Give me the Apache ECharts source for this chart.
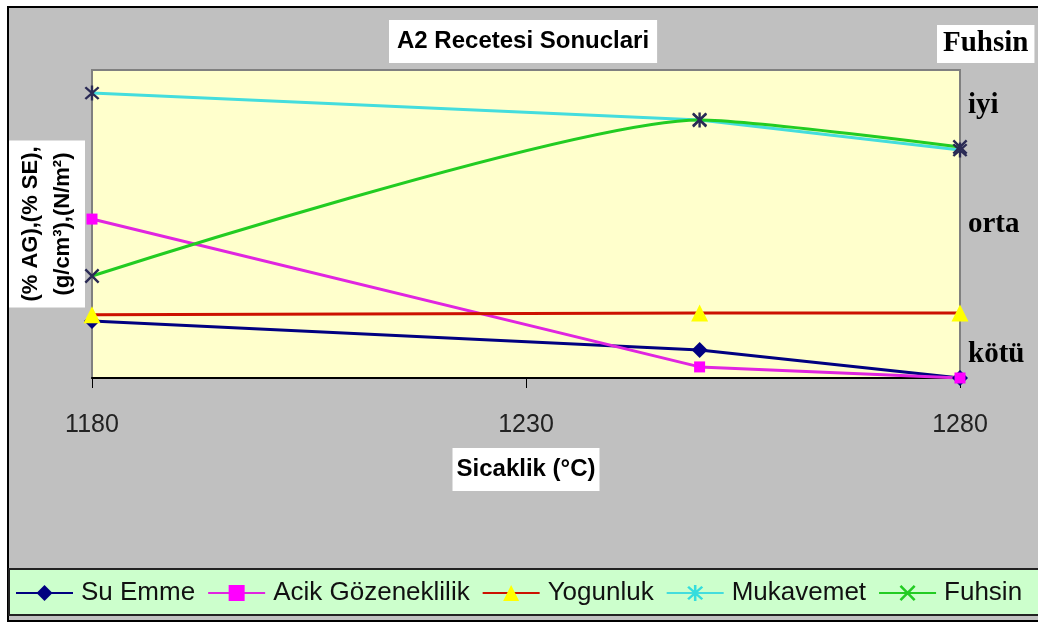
<!DOCTYPE html>
<html>
<head>
<meta charset="utf-8">
<script src="https://cdn.jsdelivr.net/npm/echarts@6/dist/echarts.min.js"></script>
<style>
html,body{margin:0;padding:0;background:#fff;}
#chart{width:1038px;height:624px;}
</style>
</head>
<body>
<div id="chart"></div>
<script>
// ---- data ----
const temperatures = [1180, 1250, 1280];
const xTickValues = [1180, 1230, 1280];
const seriesNames = ['Su Emme', 'Acik Gözeneklilik', 'Yogunluk', 'Mukavemet', 'Fuhsin'];
const suEmme = [18.5, 9.1, 0];
const acikGozeneklilik = [51.6, 3.6, 0];
const yogunluk = [20.5, 21.1, 21.1];
const mukavemet = [92.5, 83.8, 74];
const fuhsin = [33.1, 83.8, 75];
const fuhsinLevels = ['kötü', 'orta', 'iyi'];
const fuhsinLevelValues = [7.5, 49.7, 88.6];

const ASTERISK = 'path://M4.3,0H5.7V10H4.3Z M0.6,1.6L1.6,0.6L9.4,8.4L8.4,9.4Z M8.4,0.6L9.4,1.6L1.6,9.4L0.6,8.4Z';
const XMARK = 'path://M0.6,1.6L1.6,0.6L9.4,8.4L8.4,9.4Z M8.4,0.6L9.4,1.6L1.6,9.4L0.6,8.4Z';

function pts(vals){ return temperatures.map((t,i)=>[t, vals[i]]); }

const chart = echarts.init(document.getElementById('chart'));
const sans = 'Liberation Sans, Arial, sans-serif';
const serif = 'Liberation Serif, Times New Roman, serif';

chart.setOption({
  backgroundColor: '#ffffff',
  animation: false,
  title: [
    {
      text: 'A2 Recetesi Sonuclari',
      left: 389, top: 20,
      backgroundColor: '#ffffff',
      padding: [8, 8],
      textStyle: {fontFamily: sans, fontSize: 24, fontWeight: 'bold', color: '#000', lineHeight: 27}
    },
    {
      text: 'Fuhsin',
      left: 937, top: 25,
      backgroundColor: '#ffffff',
      padding: [4, 6],
      textStyle: {fontFamily: serif, fontSize: 29, fontWeight: 'bold', color: '#000', lineHeight: 30}
    }
  ],
  graphic: [
    {type: 'rect', z: -100, shape: {x: 8, y: 7, width: 1040, height: 614},
     style: {fill: '#c0c0c0', stroke: '#000', lineWidth: 2}},
    {type: 'rect', z: -90, shape: {x: 9, y: 569, width: 1035, height: 46},
     style: {fill: '#ccffcc', stroke: '#222', lineWidth: 2}}
  ],
  legend: {
    left: 10, top: 575,
    itemWidth: 57, itemHeight: 20,
    itemGap: 12,
    textStyle: {fontFamily: sans, fontSize: 26, color: '#111', padding: [0, 0, 0, 3]},
    data: [
      {name: seriesNames[0]},
      {name: seriesNames[1]},
      {name: seriesNames[2]},
      {name: seriesNames[3], itemStyle: {color: '#33dddd'}},
      {name: seriesNames[4], itemStyle: {color: '#22cc22'}}
    ]
  },
  grid: {
    left: 92, right: 78, top: 70, bottom: 246,
    show: true, backgroundColor: '#ffffcc', borderColor: '#808080', borderWidth: 2
  },
  xAxis: {
    type: 'value', min: 1180, max: 1280,
    name: 'Sicaklik (°C)', nameLocation: 'middle', nameGap: 70,
    nameTextStyle: {fontFamily: sans, fontSize: 24, fontWeight: 'bold', color: '#000',
      backgroundColor: '#ffffff', padding: [9, 4, 9, 4], lineHeight: 25},
    axisLine: {show: true, lineStyle: {color: '#000', width: 2}},
    axisTick: {show: true, length: 10, lineStyle: {color: '#000', width: 1}, customValues: xTickValues},
    axisLabel: {customValues: xTickValues, margin: 35, fontFamily: sans, fontSize: 25, color: '#222',
      formatter: function(v){ return String(v); }},
    splitLine: {show: false}
  },
  yAxis: [
    {
      type: 'value', min: 0, max: 100, position: 'left',
      name: '(% AG),(% SE),\n(g/cm³),(N/m²)', nameLocation: 'middle', nameGap: 7, nameRotate: 90,
      nameTextStyle: {fontFamily: sans, fontSize: 22, fontWeight: 'bold', color: '#000',
        backgroundColor: '#ffffff', padding: [6, 6, 6, 6], lineHeight: 32},
      axisLine: {show: false}, axisTick: {show: false}, axisLabel: {show: false}, splitLine: {show: false}
    },
    {
      type: 'value', min: 0, max: 100, position: 'right',
      axisLine: {show: false}, axisTick: {show: false}, splitLine: {show: false},
      axisLabel: {
        customValues: fuhsinLevelValues, margin: 8,
        fontFamily: serif, fontSize: 29, fontWeight: 'bold', color: '#000',
        formatter: function(v){ const i = fuhsinLevelValues.indexOf(v); return i >= 0 ? fuhsinLevels[i] : ''; }
      }
    }
  ],
  series: [
    {name: seriesNames[0], type: 'line', data: pts(suEmme), clip: false,
     symbol: 'diamond', symbolSize: 16,
     lineStyle: {color: '#000080', width: 3}, itemStyle: {color: '#000080'}},
    {name: seriesNames[1], type: 'line', data: pts(acikGozeneklilik), clip: false,
     symbol: 'rect', symbolSize: 11,
     lineStyle: {color: '#e025e0', width: 3}, itemStyle: {color: '#ff00ff'}},
    {name: seriesNames[2], type: 'line', data: pts(yogunluk), clip: false,
     symbol: 'triangle', symbolSize: 17,
     lineStyle: {color: '#cc1100', width: 3}, itemStyle: {color: '#ffff00'}},
    {name: seriesNames[3], type: 'line', data: pts(mukavemet), clip: false,
     symbol: ASTERISK, symbolSize: 15,
     lineStyle: {color: '#44dddd', width: 3}, itemStyle: {color: '#2a2a55'}},
    {name: seriesNames[4], type: 'line', data: pts(fuhsin), clip: false, smooth: 0.2,
     symbol: XMARK, symbolSize: 15,
     lineStyle: {color: '#22cc22', width: 3}, itemStyle: {color: '#2a2a55'}}
  ]
});
</script>
</body>
</html>
